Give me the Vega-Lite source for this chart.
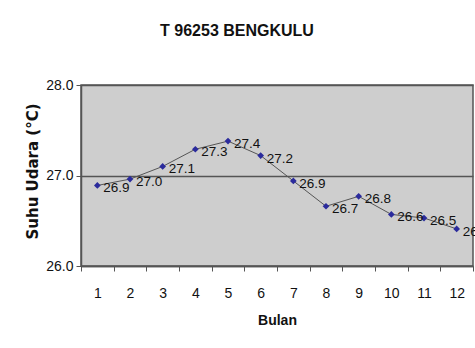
{
  "$schema": "https://vega.github.io/schema/vega-lite/v6.json",
  "autosize": {"type": "none"},
  "padding": {"left": 81, "top": 85, "right": 2, "bottom": 82},
  "width": 392,
  "height": 181,
  "background": "white",
  "title": {
    "text": "T 96253 BENGKULU",
    "font": "Liberation Sans",
    "fontSize": 16,
    "fontWeight": "bold",
    "color": "#111",
    "anchor": "middle",
    "frame": "group",
    "dx": -40,
    "baseline": "alphabetic",
    "offset": 26
  },
  "config": {
    "view": {"fill": "#cecece", "stroke": "#555", "strokeWidth": 1.5},
    "axis": {
      "labelFont": "Liberation Sans",
      "labelFontSize": 14,
      "labelColor": "#111",
      "domainColor": "#555",
      "domainWidth": 1.5,
      "tickColor": "#555",
      "tickSize": 5,
      "titleFont": "Liberation Sans",
      "titleColor": "#111",
      "titleFontWeight": "bold"
    }
  },
  "data": {
    "values": [
      {"bulan": 1, "suhu": 26.89},
      {"bulan": 2, "suhu": 26.96},
      {"bulan": 3, "suhu": 27.10},
      {"bulan": 4, "suhu": 27.29},
      {"bulan": 5, "suhu": 27.38},
      {"bulan": 6, "suhu": 27.22},
      {"bulan": 7, "suhu": 26.94},
      {"bulan": 8, "suhu": 26.66},
      {"bulan": 9, "suhu": 26.77},
      {"bulan": 10, "suhu": 26.57},
      {"bulan": 11, "suhu": 26.53},
      {"bulan": 12, "suhu": 26.41}
    ]
  },
  "encoding": {
    "x": {
      "field": "bulan",
      "type": "ordinal",
      "scale": {"paddingInner": 0, "paddingOuter": 0},
      "axis": {
        "title": "Bulan",
        "titleFontSize": 14,
        "titlePadding": 13,
        "labelAngle": 0,
        "labelPadding": 15,
        "tickBand": "extent",
        "grid": false
      }
    },
    "y": {
      "field": "suhu",
      "type": "quantitative",
      "scale": {"domain": [26, 28], "nice": false, "zero": false},
      "axis": {
        "title": "Suhu Udara (°C)",
        "titleFont": "DejaVu Sans",
        "titleFontSize": 15,
        "titleX": -49,
        "titleY": 86,
        "titleAlign": "center",
        "titleBaseline": "middle",
        "titleAngle": -90,
        "values": [26, 27, 28],
        "format": ".1f",
        "labelPadding": 3,
        "grid": true,
        "gridColor": "#555",
        "gridWidth": 1.5
      }
    }
  },
  "layer": [
    {"mark": {"type": "line", "color": "#555", "strokeWidth": 1}},
    {"mark": {"type": "point", "shape": "diamond", "filled": true, "color": "#2b2b9c", "size": 45, "opacity": 1}},
    {
      "mark": {"type": "text", "align": "left", "baseline": "middle", "dx": 6, "dy": 3, "font": "Liberation Sans", "fontSize": 13.5, "color": "#111"},
      "encoding": {"text": {"field": "suhu", "type": "quantitative", "format": ".1f"}}
    }
  ]
}
